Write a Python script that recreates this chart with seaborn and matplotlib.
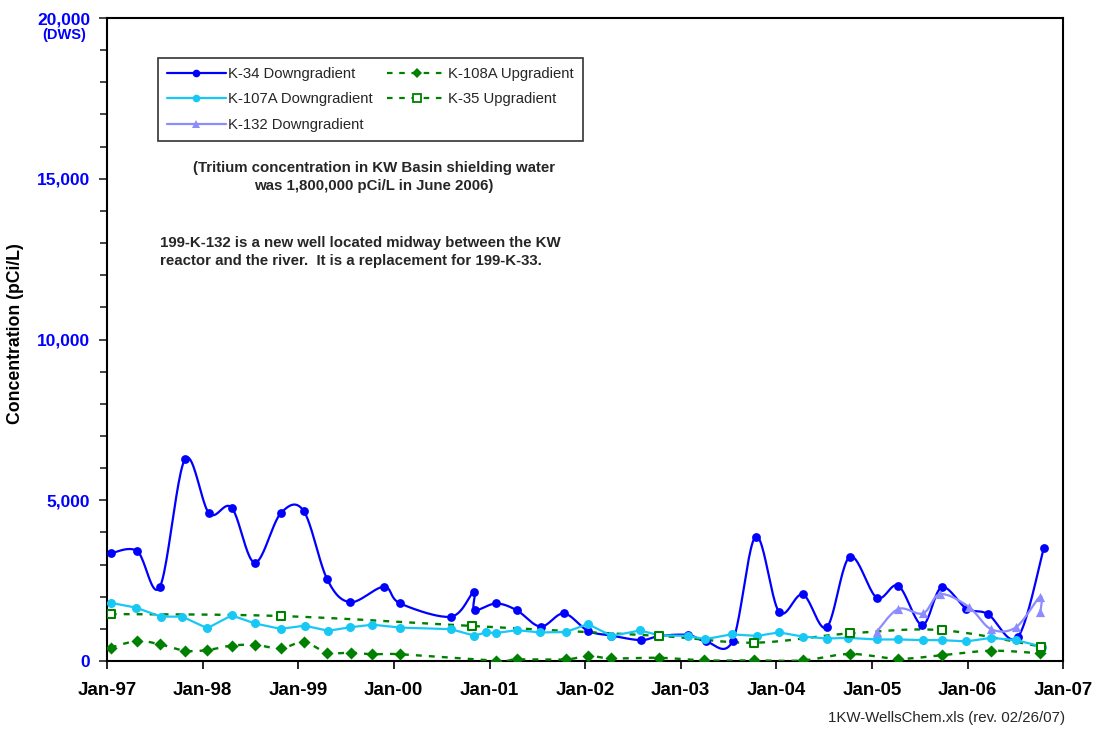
import numpy as np
import pandas as pd
import matplotlib
matplotlib.use("Agg")
import matplotlib.pyplot as plt
import matplotlib.dates as mdates
from matplotlib.lines import Line2D
from matplotlib.ticker import MultipleLocator, FuncFormatter
import seaborn as sns

# K-34 Downgradient
k34_dates = ["1997-01-15", "1997-04-26", "1997-07-22", "1997-10-26", "1998-01-26",
             "1998-04-22", "1998-07-19", "1998-10-26", "1999-01-22", "1999-04-22",
             "1999-07-19", "1999-11-25", "2000-01-26", "2000-08-07", "2000-11-01",
             "2000-11-05", "2001-01-26", "2001-04-15", "2001-07-15", "2001-10-12",
             "2002-01-12", "2002-04-12", "2002-08-03", "2002-10-12", "2003-01-30",
             "2003-04-08", "2003-07-19", "2003-10-15", "2004-01-12", "2004-04-12",
             "2004-07-12", "2004-10-08", "2005-01-19", "2005-04-12", "2005-07-12",
             "2005-09-24", "2005-12-28", "2006-03-20", "2006-07-12", "2006-10-19"]
k34_vals = [3350, 3420, 2310, 6280, 4590, 4770, 3060, 4590, 4670, 2540,
            1830, 2310, 1790, 1380, 2140, 1590, 1790, 1580, 1070, 1480,
            940, 790, 650, 780, 810, 610, 630, 3870, 1530, 2070,
            1050, 3240, 1970, 2340, 1120, 2290, 1630, 1460, 740, 3500]

# K-107A Downgradient
k107_dates = ["1997-01-15", "1997-04-22", "1997-07-26", "1997-10-15", "1998-01-19",
              "1998-04-22", "1998-07-19", "1998-10-26", "1999-01-26", "1999-04-26",
              "1999-07-19", "1999-10-12", "2000-01-26", "2000-08-07", "2000-11-03",
              "2000-12-20", "2001-01-26", "2001-04-15", "2001-07-12", "2001-10-19",
              "2002-01-12", "2002-04-12", "2002-07-30", "2002-10-12", "2003-01-30",
              "2003-04-05", "2003-07-15", "2003-10-19", "2004-01-12", "2004-04-12",
              "2004-07-12", "2004-10-01", "2005-01-19", "2005-04-12", "2005-07-15",
              "2005-09-24", "2005-12-28", "2006-04-01", "2006-07-05", "2006-10-12"]
k107_vals = [1810, 1660, 1380, 1380, 1020, 1420, 1170, 1000, 1100, 940,
             1050, 1130, 1040, 990, 790, 890, 870, 960, 890, 900,
             1150, 780, 950, 800, 780, 680, 830, 780, 890, 760,
             700, 720, 670, 670, 650, 650, 610, 720, 650, 450]

# K-132 Downgradient
k132_dates = ["2005-01-19", "2005-04-12", "2005-07-15", "2005-09-18", "2006-01-05",
              "2006-04-01", "2006-07-05", "2006-10-05", "2006-10-06"]
k132_vals = [910, 1620, 1480, 2080, 1690, 990, 1050, 2000, 1510]

# K-108A Upgradient
k108_dates = ["1997-01-15", "1997-04-26", "1997-07-22", "1997-10-26", "1998-01-19",
              "1998-04-22", "1998-07-22", "1998-10-26", "1999-01-22", "1999-04-22",
              "1999-07-22", "1999-10-12", "2000-01-26", "2001-01-26", "2001-04-15",
              "2001-10-19", "2002-01-12", "2002-04-12", "2002-10-12", "2003-04-01",
              "2003-10-08", "2004-04-12", "2004-10-08", "2005-04-12", "2005-09-24",
              "2006-04-01", "2006-10-05"]
k108_vals = [420, 620, 520, 320, 340, 480, 500, 390, 590, 260,
             260, 210, 210, 10, 50, 50, 160, 80, 100, 20,
             20, 20, 220, 70, 180, 320, 240]

# K-35 Upgradient
k35_dates = ["1997-01-15", "1998-10-26", "2000-10-26", "2002-10-12", "2003-10-08",
             "2004-10-08", "2005-09-24", "2006-10-08"]
k35_vals = [1460, 1400, 1090, 780, 570, 860, 960, 450]

year_ticks = ["1997-01-01", "1998-01-01", "1999-01-01", "2000-01-01", "2001-01-01",
              "2002-01-01", "2003-01-01", "2004-01-01", "2005-01-01", "2006-01-01",
              "2007-01-01"]


def to_num(dates):
    return mdates.date2num(pd.to_datetime(dates))


def smooth(xd, yd, n=24):
    # Excel-style smoothed line (Bezier through the points), done in screen-like units
    kx, ky = 95.6 / 365.25, 160.75 / 5000.0
    pts = np.column_stack([np.asarray(xd) * kx, np.asarray(yd, dtype=float) * ky])
    ext = np.vstack([pts[0], pts, pts[-1]])
    t = np.linspace(0, 1, n)[:, None]
    out = [pts[:1]]
    for i in range(len(pts) - 1):
        p0, p1, p2, p3 = ext[i], ext[i + 1], ext[i + 2], ext[i + 3]
        c1 = p1 + (p2 - p0) / 6.0
        c2 = p2 - (p3 - p1) / 6.0
        seg = (1 - t) ** 3 * p1 + 3 * (1 - t) ** 2 * t * c1 + 3 * (1 - t) * t ** 2 * c2 + t ** 3 * p2
        out.append(seg[1:])
    out = np.vstack(out)
    return out[:, 0] / kx, out[:, 1] / ky


sns.set_theme(style="white")
plt.rcParams['font.family'] = ['Liberation Sans', 'DejaVu Sans']

fig = plt.figure(figsize=(10.99, 7.30), dpi=100)
ax = fig.add_axes([0.0974, 0.0945, 0.8699, 0.8808])

blue = "#0000ff"
cyan = "#17c8f5"
lav = "#8c8cff"
green = "#008000"

# K-34
x = to_num(k34_dates)
sx, sy = smooth(x, k34_vals)
sns.lineplot(x=sx, y=sy, sort=False, estimator=None, color=blue, lw=1.6, ax=ax, zorder=3)
sns.scatterplot(x=x, y=k34_vals, color=blue, marker="o", s=40, linewidth=0, ax=ax, zorder=4)

# K-107A (straight segments)
x = to_num(k107_dates)
sns.lineplot(x=x, y=k107_vals, sort=False, estimator=None, color=cyan, lw=1.6,
             marker="o", markersize=6.5, markeredgewidth=0, ax=ax, zorder=5)

# K-108A
x = to_num(k108_dates)
sx, sy = smooth(x, k108_vals)
ax.plot(sx, sy, color=green, lw=1.7, ls=(0, (2.5, 3)), zorder=3)
sns.scatterplot(x=x, y=k108_vals, color=green, marker="D", s=38, linewidth=0, ax=ax, zorder=4)

# K-35
x = to_num(k35_dates)
sx, sy = smooth(x, k35_vals)
ax.plot(sx, sy, color=green, lw=1.7, ls=(0, (2.5, 3)), zorder=3)
ax.scatter(x, k35_vals, marker="s", s=38, facecolors="white", edgecolors=green,
           linewidths=1.5, zorder=6)

# K-132
x = to_num(k132_dates)
sx, sy = smooth(x, k132_vals)
sns.lineplot(x=sx, y=sy, sort=False, estimator=None, color=lav, lw=1.6, ax=ax, zorder=6)
sns.scatterplot(x=x, y=k132_vals, color=lav, marker="^", s=44, linewidth=0, ax=ax, zorder=7)

# axes
ticks = to_num(year_ticks)
ax.set_xlim(ticks[0], ticks[-1])
ax.set_ylim(0, 20000)
ax.set_xticks(ticks)
ax.xaxis.set_major_formatter(mdates.DateFormatter("%b-%y"))
ax.yaxis.set_major_locator(MultipleLocator(5000))
ax.yaxis.set_minor_locator(MultipleLocator(1000))
ax.yaxis.set_major_formatter(FuncFormatter(lambda v, p: f"{int(v):,}"))
ax.tick_params(axis="x", which="major", direction="out", length=6, width=1.2,
               pad=9, labelsize=13.5, colors="black", bottom=True)
ax.tick_params(axis="y", which="major", direction="out", length=6, width=1.2,
               pad=6, labelsize=12.5, labelcolor=blue, left=True)
ax.tick_params(axis="y", which="minor", direction="out", length=5, width=1.2, left=True)
for lab in ax.get_xticklabels() + ax.get_yticklabels():
    lab.set_fontweight("bold")
for sp in ax.spines.values():
    sp.set_color("black")
    sp.set_linewidth(1.5)

ax.set_xlabel("")
ax.set_ylabel("Concentration (pCi/L)", fontsize=12.7, fontweight="bold", color="black")
ax.yaxis.set_label_coords(-0.087, 0.51)

ax.annotate("(DWS)", xy=(0, 20000), xycoords=("axes fraction", "data"),
            xytext=(-31, -12), textcoords="offset points", ha="center", va="center",
            fontsize=10.5, fontweight="bold", color=blue)

# legend
handles = [
    Line2D([], [], color=blue, lw=1.6, marker="o", markersize=5.5, markeredgewidth=0),
    Line2D([], [], color=cyan, lw=1.6, marker="o", markersize=5.5, markeredgewidth=0),
    Line2D([], [], color=lav, lw=1.6, marker="^", markersize=5.5, markeredgewidth=0),
    Line2D([], [], color=green, lw=1.6, ls=(0, (2.5, 3)), marker="D", markersize=5.5,
           markeredgewidth=0),
    Line2D([], [], color=green, lw=1.6, ls=(0, (2.5, 3)), marker="s", markersize=5.5,
           markerfacecolor="white", markeredgecolor=green, markeredgewidth=1.3),
]
labels = ["K-34 Downgradient", "K-107A Downgradient", "K-132 Downgradient",
          "K-108A Upgradient", "K-35 Upgradient"]
leg = ax.legend(handles, labels, ncol=2, loc="upper left", bbox_to_anchor=(0.053, 0.938),
                borderaxespad=0, fontsize=10.7, frameon=True, fancybox=False,
                edgecolor="black", handlelength=4.0, handletextpad=0.1, columnspacing=1.0,
                labelspacing=0.78, borderpad=0.6)
leg.get_frame().set_linewidth(1.2)

ax.text(0.279, 0.753, "(Tritium concentration in KW Basin shielding water\nwas 1,800,000 pCi/L in June 2006)",
        transform=ax.transAxes, ha="center", va="center", fontsize=10.8, fontweight="bold",
        linespacing=1.42)
ax.text(0.0554, 0.636, "199-K-132 is a new well located midway between the KW\nreactor and the river.  It is a replacement for 199-K-33.",
        transform=ax.transAxes, ha="left", va="center", fontsize=10.8, fontweight="bold",
        linespacing=1.42)

fig.text(0.969, 0.0164, "1KW-WellsChem.xls (rev. 02/26/07)", ha="right", va="center", fontsize=10.8)

fig.savefig("out.png", dpi=100)
